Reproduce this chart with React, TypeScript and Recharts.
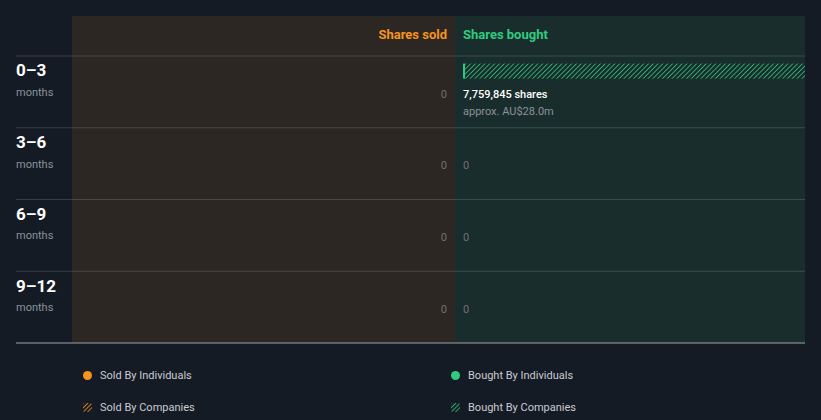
import { BarChart, Bar, XAxis, YAxis, ReferenceArea, ReferenceLine, LabelList, Legend } from "recharts";

const periods = ["0–3", "3–6", "6–9", "9–12"];
const periodUnit = "months";
const sharesSold = [0, 0, 0, 0];
const sharesBought = [7759845, 0, 0, 0];
const boughtValue = ["AU$28.0m", "", "", ""];
const panelTitles = { sold: "Shares sold", bought: "Shares bought" };
const legendItems = [
  { label: "Sold By Individuals", color: "#f7931e", hatched: false },
  { label: "Bought By Individuals", color: "#2ecc7f", hatched: false },
  { label: "Sold By Companies", color: "#f7931e", hatched: true },
  { label: "Bought By Companies", color: "#2ecc7f", hatched: true },
];

const data = periods.map((period, i) => ({
  period,
  sold: sharesSold[i],
  bought: sharesBought[i],
  value: boughtValue[i],
}));
const maxShares = Math.max(...sharesSold, ...sharesBought);

const BG = "#151b25";
const SOLD_BG = "#2c2722";
const BOUGHT_BG = "#1a2d2d";
const ORANGE = "#f7931e";
const GREEN = "#2ecc7f";
const BAR_SHIFT = -20.4;

function PeriodTick(props: any) {
  const { y, payload } = props;
  return (
    <g>
      <text x={16} y={y - 15.5} fill="#ffffff" fontSize={17} fontWeight={700}>{payload.value}</text>
      <text x={16} y={y + 4} fill="#8b9298" fontSize={11}>{periodUnit}</text>
    </g>
  );
}

function PanelTitle(props: any) {
  const { viewBox, side } = props;
  const sold = side === "sold";
  return (
    <text
      x={sold ? viewBox.x + viewBox.width - 8 : viewBox.x + 8}
      y={viewBox.y + 23}
      textAnchor={sold ? "end" : "start"}
      fill={sold ? ORANGE : GREEN}
      fontSize={13}
      fontWeight={700}
    >
      {sold ? panelTitles.sold : panelTitles.bought}
    </text>
  );
}

function BoughtShape(props: any) {
  const { x, y, width, height } = props;
  if (!width || width <= 0) return null;
  return (
    <g>
      <rect x={x + 8} y={y + BAR_SHIFT} width={width - 8} height={height} fill="url(#hatchGreen)" />
      <rect x={x + 8} y={y + BAR_SHIFT} width={2} height={height} fill={GREEN} />
    </g>
  );
}

function SoldShape(props: any) {
  const { x, y, width, height } = props;
  if (!width || Math.abs(width) <= 0) return null;
  const left = Math.min(x, x + width);
  return <rect x={left} y={y + BAR_SHIFT} width={Math.abs(width) - 8} height={height} fill="url(#hatchOrange)" />;
}

function getBox(props: any) {
  const vb = props.viewBox ?? props;
  return { x: vb.x, y: vb.y, width: vb.width, height: vb.height };
}

function SoldLabel(props: any) {
  const { x, y, width } = getBox(props);
  const left = Math.min(x, x + width);
  return (
    <text x={left - 8} y={y + 13.5} textAnchor="end" fill="#6e7174" fontSize={11}>
      {Number(props.value).toLocaleString("en-US")}
    </text>
  );
}

function BoughtLabel(props: any) {
  const { x, y } = getBox(props);
  const v = Number(props.value);
  if (!v) {
    return (
      <text x={x + 8} y={y + 13.5} fill="#6e7174" fontSize={11}>0</text>
    );
  }
  return (
    <g>
      <text x={x + 8} y={y + 13.5} fill="#ffffff" fontSize={11} fontWeight={500}>
        {v.toLocaleString("en-US")} shares
      </text>
      <text x={x + 8} y={y + 31} fill="#8b9298" fontSize={11}>
        approx. {boughtValue[props.index]}
      </text>
    </g>
  );
}

function Marker({ color, hatched }: { color: string; hatched: boolean }) {
  if (!hatched) {
    return <span style={{ display: "inline-block", width: 9, height: 9, borderRadius: 5, background: color }} />;
  }
  return (
    <svg width={9} height={9} style={{ display: "block" }}>
      <defs>
        <pattern id={`lg${color.slice(1)}`} width="3" height="3" patternUnits="userSpaceOnUse" patternTransform="rotate(45)">
          <line x1="0" y1="0" x2="0" y2="3" stroke={color} strokeWidth="1.6" />
        </pattern>
      </defs>
      <rect x={0} y={0} width={9} height={9} rx={2} fill={`url(#lg${color.slice(1)})`} />
    </svg>
  );
}

function LegendContent() {
  const cols = [83, 451];
  const rows = [16, 48];
  return (
    <div style={{ position: "relative", width: 821, height: 61 }}>
      {legendItems.map((item, i) => (
        <div
          key={item.label}
          style={{
            position: "absolute",
            left: cols[i % 2],
            top: rows[Math.floor(i / 2)] - 8,
            height: 16,
            display: "flex",
            alignItems: "center",
            gap: 8,
            fontSize: 11,
            color: "#c8ccd2",
          }}
        >
          <Marker color={item.color} hatched={item.hatched} />
          <span>{item.label}</span>
        </div>
      ))}
    </div>
  );
}

export default function App() {
  return (
    <div style={{ position: "fixed", left: 0, top: 0, width: 821, height: 420, background: BG, fontFamily: "Roboto, sans-serif" }}>
      <BarChart
        width={821}
        height={420}
        data={data}
        layout="vertical"
        margin={{ top: 16, right: 16, left: 0, bottom: 76 }}
        style={{ fontFamily: "Roboto, sans-serif" }}
      >
        <defs>
          <pattern id="hatchGreen" width="3.4" height="3.4" patternUnits="userSpaceOnUse" patternTransform="rotate(45)">
            <line x1="0" y1="0" x2="0" y2="3.4" stroke={GREEN} strokeWidth="1.5" />
          </pattern>
          <pattern id="hatchOrange" width="3.4" height="3.4" patternUnits="userSpaceOnUse" patternTransform="rotate(45)">
            <line x1="0" y1="0" x2="0" y2="3.4" stroke={ORANGE} strokeWidth="1.5" />
          </pattern>
        </defs>
        <XAxis xAxisId="sold" type="number" domain={[0, maxShares]} reversed hide padding={{ left: 56, right: 350 }} />
        <XAxis
          xAxisId="bought"
          type="number"
          domain={[0, maxShares]}
          padding={{ left: 439, right: 0 }}
          tick={false}
          tickLine={false}
          axisLine={{ stroke: "#9ea3a8" }}
          height={1}
        />
        <YAxis
          yAxisId="rows"
          type="category"
          dataKey="period"
          width={16}
          padding={{ top: 40, bottom: 0 }}
          axisLine={false}
          tickLine={false}
          tick={<PeriodTick />}
        />
        <YAxis yAxisId="rowsSold" type="category" dataKey="period" hide padding={{ top: 40, bottom: 0 }} />
        <YAxis yAxisId="frame" type="category" dataKey="period" hide />

        <ReferenceArea
          xAxisId="sold"
          yAxisId="frame"
          x1={0}
          x2={maxShares}
          fill={SOLD_BG}
          fillOpacity={1}
          label={<PanelTitle side="sold" />}
        />
        <ReferenceArea
          xAxisId="bought"
          yAxisId="frame"
          x1={0}
          x2={maxShares}
          fill={BOUGHT_BG}
          fillOpacity={1}
          label={<PanelTitle side="bought" />}
        />
        {periods.map((p) => (
          <ReferenceLine
            key={p}
            xAxisId="bought"
            yAxisId="rows"
            y={p}
            position="start"
            stroke="#ffffff"
            strokeOpacity={0.15}
          />
        ))}

        <Bar xAxisId="sold" yAxisId="rowsSold" dataKey="sold" barSize={15} isAnimationActive={false} shape={<SoldShape />}>
          <LabelList dataKey="sold" content={<SoldLabel />} />
        </Bar>
        <Bar xAxisId="bought" yAxisId="rows" dataKey="bought" barSize={15} isAnimationActive={false} shape={<BoughtShape />}>
          <LabelList dataKey="bought" content={<BoughtLabel />} />
        </Bar>

        <Legend
          layout="horizontal"
          verticalAlign="middle"
          align="center"
          wrapperStyle={{ position: "absolute", left: 0, top: 359, width: 821, height: 61 }}
          content={<LegendContent />}
        />
      </BarChart>
    </div>
  );
}
